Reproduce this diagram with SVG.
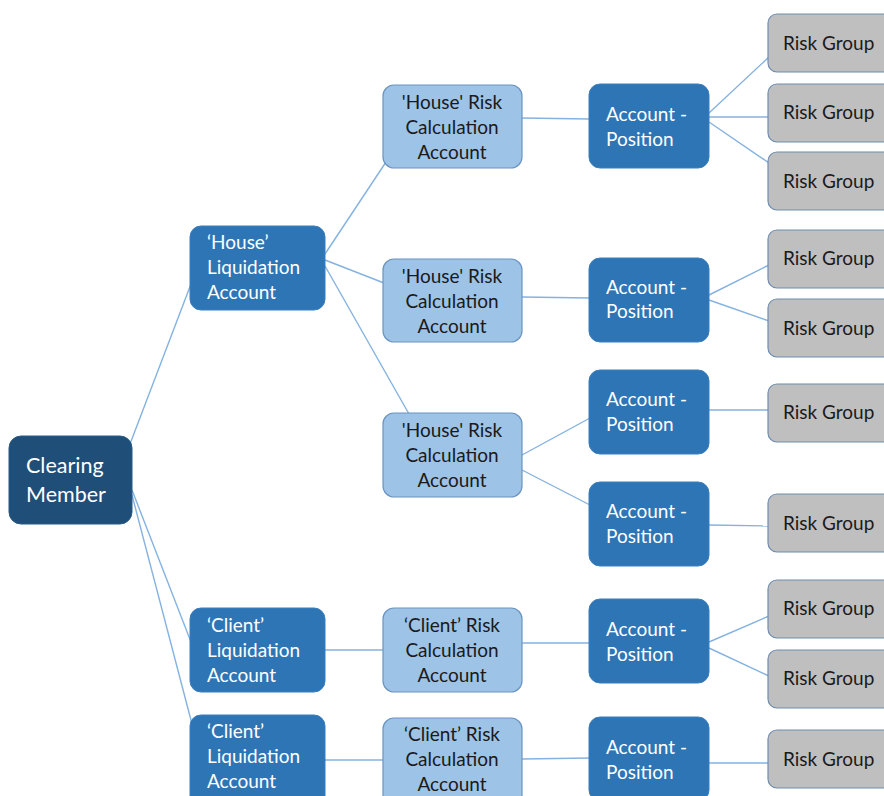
<svg xmlns="http://www.w3.org/2000/svg" width="884" height="796" viewBox="0 0 884 796">
<style>
.cm{fill:#1F4E79;stroke:#2A5A88;stroke-width:1}
.dk{fill:#2E75B6;stroke:#3A7FBD;stroke-width:1}
.lt{fill:#9DC3E6;stroke:#6A94C2;stroke-width:1.2}
.gr{fill:#BFBFBF;stroke:#6F8DB0;stroke-width:1.2}
text{font-family:Lato,"Open Sans","Liberation Sans",sans-serif;font-size:19px}
.w{fill:#FFFFFF}
.b{fill:#1A1A1A}
.c{text-anchor:middle}
#connectors line{stroke:#85B2E0;stroke-width:1.4}
</style>
<rect width="884" height="796" fill="#FFFFFF"/>
<g id="connectors">
<line x1="130" y1="444" x2="191" y2="284"/>
<line x1="132" y1="490" x2="191" y2="642"/>
<line x1="132" y1="495" x2="192" y2="724"/>
<line x1="325" y1="254" x2="386" y2="162"/>
<line x1="325" y1="260" x2="384" y2="283"/>
<line x1="325" y1="266" x2="409" y2="414"/>
<line x1="522" y1="118" x2="590" y2="119"/>
<line x1="522" y1="297" x2="590" y2="298"/>
<line x1="522" y1="455" x2="590" y2="418"/>
<line x1="522" y1="470" x2="590" y2="505"/>
<line x1="325" y1="650" x2="384" y2="650"/>
<line x1="325" y1="760" x2="384" y2="760"/>
<line x1="522" y1="643" x2="590" y2="643"/>
<line x1="522" y1="759" x2="590" y2="758"/>
<line x1="709" y1="113" x2="769" y2="57"/>
<line x1="709" y1="117" x2="769" y2="117"/>
<line x1="709" y1="122" x2="769" y2="163"/>
<line x1="709" y1="295" x2="769" y2="265"/>
<line x1="709" y1="300" x2="769" y2="321"/>
<line x1="709" y1="410" x2="769" y2="410"/>
<line x1="709" y1="525" x2="769" y2="526"/>
<line x1="709" y1="642" x2="769" y2="616"/>
<line x1="709" y1="648" x2="769" y2="676"/>
<line x1="709" y1="763" x2="769" y2="763"/>
</g>
<g id="clearing-member"><rect class="cm" x="9" y="436" width="123" height="88" rx="12"/><text class="w" x="26" y="473" style="font-size:21.5px">Clearing</text><text class="w" x="26" y="502" style="font-size:21.5px">Member</text></g>
<g id="house-liq"><rect class="dk" x="190" y="226" width="135" height="84" rx="11"/><text class="w" x="207" y="249">‘House’</text><text class="w" x="207" y="274">Liquidation</text><text class="w" x="207" y="299">Account</text></g>
<g id="client-liq-1"><rect class="dk" x="190" y="608" width="135" height="84" rx="11"/><text class="w" x="207" y="632">‘Client’</text><text class="w" x="207" y="657">Liquidation</text><text class="w" x="207" y="682">Account</text></g>
<g id="client-liq-2"><rect class="dk" x="190" y="715" width="135" height="95" rx="11"/><text class="w" x="207" y="738">‘Client’</text><text class="w" x="207" y="763">Liquidation</text><text class="w" x="207" y="788">Account</text></g>
<g id="house-risk-1"><rect class="lt" x="383" y="85" width="139" height="83" rx="11"/><text class="b c" x="452" y="109">'House' Risk</text><text class="b c" x="452" y="134">Calculation</text><text class="b c" x="452" y="159">Account</text></g>
<g id="house-risk-2"><rect class="lt" x="383" y="259" width="139" height="83" rx="11"/><text class="b c" x="452" y="283">'House' Risk</text><text class="b c" x="452" y="308">Calculation</text><text class="b c" x="452" y="333">Account</text></g>
<g id="house-risk-3"><rect class="lt" x="383" y="413" width="139" height="84" rx="11"/><text class="b c" x="452" y="437">'House' Risk</text><text class="b c" x="452" y="462">Calculation</text><text class="b c" x="452" y="487">Account</text></g>
<g id="client-risk-1"><rect class="lt" x="383" y="608" width="139" height="84" rx="11"/><text class="b c" x="452" y="632">‘Client’ Risk</text><text class="b c" x="452" y="657">Calculation</text><text class="b c" x="452" y="682">Account</text></g>
<g id="client-risk-2"><rect class="lt" x="383" y="718" width="139" height="92" rx="11"/><text class="b c" x="452" y="741">‘Client’ Risk</text><text class="b c" x="452" y="766">Calculation</text><text class="b c" x="452" y="791">Account</text></g>
<g id="ap-1"><rect class="dk" x="589" y="84" width="120" height="84" rx="11"/><text class="w" x="606" y="121">Account -</text><text class="w" x="606" y="146">Position</text></g>
<g id="ap-2"><rect class="dk" x="589" y="258" width="120" height="84" rx="11"/><text class="w" x="606" y="294">Account -</text><text class="w" x="606" y="318">Position</text></g>
<g id="ap-3"><rect class="dk" x="589" y="370" width="120" height="84" rx="11"/><text class="w" x="606" y="406">Account -</text><text class="w" x="606" y="431">Position</text></g>
<g id="ap-4"><rect class="dk" x="589" y="482" width="120" height="84" rx="11"/><text class="w" x="606" y="518">Account -</text><text class="w" x="606" y="543">Position</text></g>
<g id="ap-5"><rect class="dk" x="589" y="599" width="120" height="84" rx="11"/><text class="w" x="606" y="636">Account -</text><text class="w" x="606" y="661">Position</text></g>
<g id="ap-6"><rect class="dk" x="589" y="717" width="120" height="84" rx="11"/><text class="w" x="606" y="754">Account -</text><text class="w" x="606" y="779">Position</text></g>
<g id="rg-1"><rect class="gr" x="768" y="14" width="125" height="58" rx="9"/><text class="b" x="783" y="50">Risk Group</text></g>
<g id="rg-2"><rect class="gr" x="768" y="84" width="125" height="58" rx="9"/><text class="b" x="783" y="119">Risk Group</text></g>
<g id="rg-3"><rect class="gr" x="768" y="152" width="125" height="58" rx="9"/><text class="b" x="783" y="188">Risk Group</text></g>
<g id="rg-4"><rect class="gr" x="768" y="230" width="125" height="58" rx="9"/><text class="b" x="783" y="265">Risk Group</text></g>
<g id="rg-5"><rect class="gr" x="768" y="299" width="125" height="58" rx="9"/><text class="b" x="783" y="335">Risk Group</text></g>
<g id="rg-6"><rect class="gr" x="768" y="384" width="125" height="58" rx="9"/><text class="b" x="783" y="419">Risk Group</text></g>
<g id="rg-7"><rect class="gr" x="768" y="494" width="125" height="58" rx="9"/><text class="b" x="783" y="530">Risk Group</text></g>
<g id="rg-8"><rect class="gr" x="768" y="580" width="125" height="58" rx="9"/><text class="b" x="783" y="615">Risk Group</text></g>
<g id="rg-9"><rect class="gr" x="768" y="650" width="125" height="58" rx="9"/><text class="b" x="783" y="685">Risk Group</text></g>
<g id="rg-10"><rect class="gr" x="768" y="730" width="125" height="58" rx="9"/><text class="b" x="783" y="766">Risk Group</text></g>
</svg>
